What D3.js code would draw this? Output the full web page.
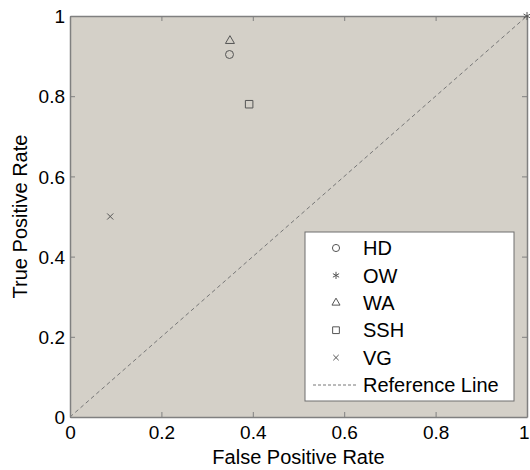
<!DOCTYPE html>
<html lang="en">
<head>
    <meta charset="UTF-8">
    <title>ROC points</title>
    <script src="https://d3js.org/d3.v7.min.js"></script>
    <style>
        body {
            margin: 0;
            background-color: #ffffff;
            font-family: "Liberation Sans", Arial, sans-serif;
        }
        .tick text {
            font-size: 19px;
            fill: #000000;
        }
    </style>
</head>
<body>
    <svg id="roc-chart" width="530" height="470"></svg>

    <script>
        // Values
        const methods = ["HD", "OW", "WA", "SSH", "VG"];
        const fprValues = [0.349, 1.0, 0.35, 0.392, 0.088];
        const tprValues = [0.904, 1.0, 0.938, 0.78, 0.5];
        const tickValues = [0, 0.2, 0.4, 0.6, 0.8, 1];
        const refLine = [[0, 0], [1, 1]];

        const symbolTypes = [d3.symbolCircle, d3.symbolAsterisk, d3.symbolTriangle2, d3.symbolSquare2, d3.symbolTimes];
        const symbolSizes = [50, 45, 58, 72, 26];

        const margin = { top: 16, right: 3, bottom: 53, left: 70 };
        const width = 530 - margin.left - margin.right;
        const height = 470 - margin.top - margin.bottom;

        const svg = d3.select("#roc-chart");
        const g = svg.append("g").attr("transform", `translate(${margin.left},${margin.top})`);

        const xScale = d3.scaleLinear().domain([0, 1]).range([0, width]);
        const yScale = d3.scaleLinear().domain([0, 1]).range([height, 0]);

        // plot background
        g.append("rect")
            .attr("width", width)
            .attr("height", height)
            .attr("fill", "#d4d0c8");

        // reference line
        g.append("path")
            .datum(refLine)
            .attr("d", d3.line().x(d => xScale(d[0])).y(d => yScale(d[1])))
            .attr("fill", "none")
            .attr("stroke", "#777777")
            .attr("stroke-width", 1)
            .attr("stroke-dasharray", "4,3");

        // axes (ticks pointing inward, box on all sides)
        const fmt = d => d === 0 ? "0" : d === 1 ? "1" : d3.format(".1f")(d);
        const xAxis = g.append("g").attr("transform", `translate(0,${height})`)
            .call(d3.axisBottom(xScale).tickValues(tickValues).tickFormat(fmt).tickSizeInner(-5).tickSizeOuter(0).tickPadding(9));
        const yAxis = g.append("g")
            .call(d3.axisLeft(yScale).tickValues(tickValues).tickFormat(fmt).tickSizeInner(-5).tickSizeOuter(0).tickPadding(5));
        const xTop = g.append("g")
            .call(d3.axisTop(xScale).tickValues(tickValues).tickFormat("").tickSizeInner(-5).tickSizeOuter(0));
        const yRight = g.append("g").attr("transform", `translate(${width},0)`)
            .call(d3.axisRight(yScale).tickValues(tickValues).tickFormat("").tickSizeInner(-5).tickSizeOuter(0));

        [xAxis, yAxis, xTop, yRight].forEach(a => {
            a.select(".domain").attr("stroke", "#808080").attr("stroke-width", 1.5);
            a.selectAll(".tick line").attr("stroke", "#808080");
        });
        yAxis.selectAll(".tick text").attr("dy", "0.35em");
        // last x label sits against the right edge
        xAxis.selectAll(".tick text").filter(d => d === 1)
            .attr("text-anchor", "end")
            .attr("x", 2);

        // axis titles
        svg.append("text")
            .attr("x", margin.left + width / 2)
            .attr("y", 464)
            .attr("text-anchor", "middle")
            .attr("font-size", "20px")
            .text("False Positive Rate");

        svg.append("text")
            .attr("transform", `translate(27,${margin.top + height / 2}) rotate(-90)`)
            .attr("text-anchor", "middle")
            .attr("font-size", "20px")
            .text("True Positive Rate");

        // data points
        g.selectAll(".pt")
            .data(methods)
            .enter().append("path")
            .attr("class", "pt")
            .attr("transform", (d, i) => `translate(${xScale(fprValues[i])},${yScale(tprValues[i])})`)
            .attr("d", (d, i) => d3.symbol().type(symbolTypes[i]).size(symbolSizes[i])())
            .attr("fill", "none")
            .attr("stroke", "#555555")
            .attr("stroke-width", 1);

        // legend
        const legend = svg.append("g").attr("transform", "translate(305,232)");
        legend.append("rect")
            .attr("width", 209)
            .attr("height", 169)
            .attr("fill", "#ffffff")
            .attr("stroke", "#6e6e6e")
            .attr("stroke-width", 1);

        const rowH = 27.4;
        const items = legend.selectAll(".item")
            .data(methods)
            .enter().append("g")
            .attr("class", "item")
            .attr("transform", (d, i) => `translate(0,${16 + i * rowH})`);

        items.append("path")
            .attr("transform", "translate(31,0)")
            .attr("d", (d, i) => d3.symbol().type(symbolTypes[i]).size(symbolSizes[i] * 0.8)())
            .attr("fill", "none")
            .attr("stroke", "#555555");

        items.append("text")
            .attr("x", 58)
            .attr("dy", "0.36em")
            .attr("font-size", "20px")
            .text(d => d);

        const refRow = legend.append("g").attr("transform", `translate(0,${16 + 5 * rowH})`);
        refRow.append("line")
            .attr("x1", 8).attr("x2", 52)
            .attr("stroke", "#777777")
            .attr("stroke-dasharray", "3,2");
        refRow.append("text")
            .attr("x", 58)
            .attr("dy", "0.36em")
            .attr("font-size", "20px")
            .text("Reference Line");
    </script>
</body>
</html>
